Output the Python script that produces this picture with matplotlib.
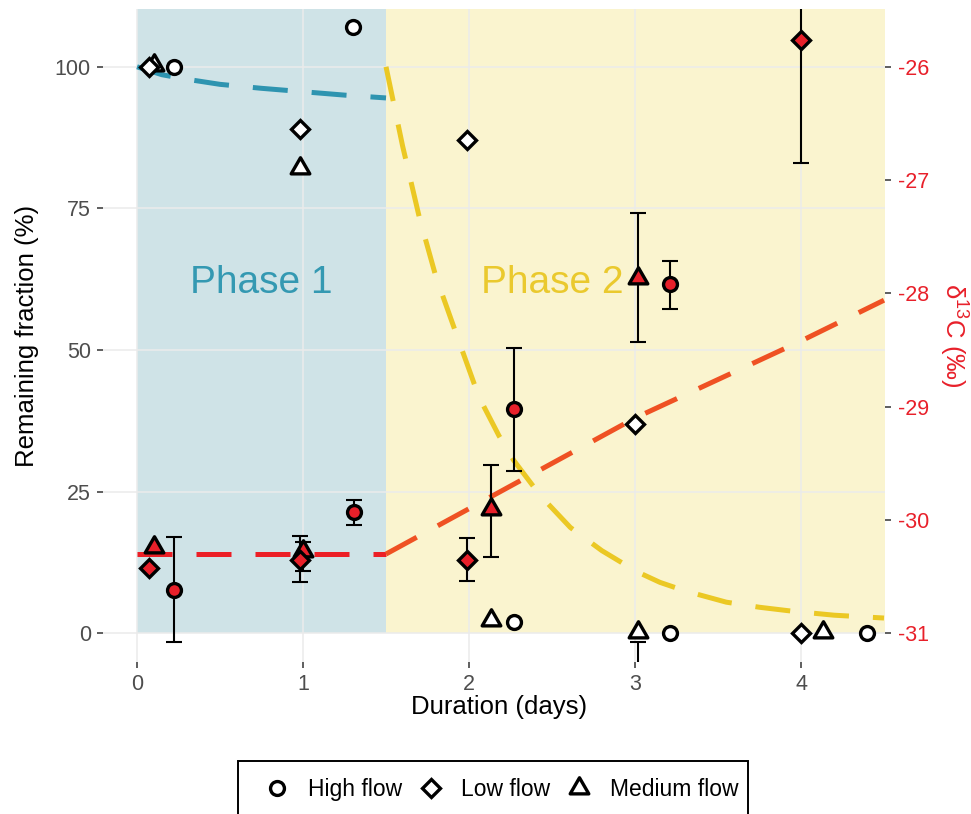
import numpy as np
import matplotlib
matplotlib.use('Agg')
import matplotlib.pyplot as plt
from matplotlib.lines import Line2D
from matplotlib.patches import Rectangle
from matplotlib.path import Path

plt.rcParams['font.family'] = ['Liberation Sans', 'DejaVu Sans']
plt.rcParams['axes.unicode_minus'] = False
plt.rcParams['mathtext.fontset'] = 'custom'
plt.rcParams['mathtext.rm'] = 'Liberation Sans'
plt.rcParams['mathtext.it'] = 'Liberation Sans:italic'

nan = np.nan

# Remaining fraction (%) - open symbols
high_day = [0.22, 1.30, 2.27, 3.21, 4.40]
high_frac = [100, 107, 2.0, 0, 0]
low_day = [0.07, 0.98, 1.99, 3.00, 4.00]
low_frac = [100, 89, 87, 36.9, 0]
med_day = [0.10, 0.98, 2.13, 3.02, 4.13]
med_frac = [100.3, 82.2, 2.3, 0.2, 0.2]
# only visible error bar on the fraction data (medium flow, day 3)
med_frac_err_day = [3.02]
med_frac_err_lo = [-6.0]
med_frac_err_hi = [-1.5]

# delta 13C (permil) - red filled symbols
high_d13c_day = [0.22, 1.31, 2.27, 3.21]
high_d13c = [-30.62, -29.93, -29.02, -27.92]
high_d13c_lo = [-31.08, -30.04, -29.57, -28.14]
high_d13c_hi = [-30.15, -29.82, -28.48, -27.71]
low_d13c_day = [0.07, 0.98, 1.99, 4.00]
low_d13c = [-30.42, -30.35, -30.35, -25.76]
low_d13c_lo = [nan, -30.55, -30.54, -26.85]
low_d13c_hi = [nan, -30.14, -30.16, -24.67]
med_d13c_day = [0.10, 1.00, 2.13, 3.02]
med_d13c = [-30.24, -30.27, -29.90, -27.86]
med_d13c_lo = [nan, -30.45, -30.33, -28.43]
med_d13c_hi = [nan, -30.19, -29.51, -27.29]

# fitted curves
p1_day = [0, 0.15, 0.3, 0.5, 0.75, 1.0, 1.25, 1.5]
p1_frac = [100, 98.6, 97.8, 96.9, 96.2, 95.6, 95.0, 94.5]
p2_day = [1.5, 1.6, 1.7, 1.8, 1.93, 2.06, 2.18, 2.27, 2.43, 2.61, 2.8, 3.01, 3.15, 3.3,
          3.55, 3.75, 3.95, 4.2, 4.5]
p2_frac = [100, 86, 73.5, 63, 52.3, 41.7, 34.9, 30.5, 24.3, 18.7, 14.6, 10.9, 9.0, 7.5,
           5.5, 4.6, 3.9, 3.2, 2.7]
d13c_flat_day = [0, 1.5]
d13c_flat = [-30.3, -30.3]
d13c_fit_day = [1.5, 2.0, 2.5, 3.0, 3.5, 4.0, 4.5]
d13c_fit = [-30.3, -29.9, -29.5, -29.1, -28.76, -28.42, -28.06]

phase_labels = ['Phase 1', 'Phase 2']
legend_labels = ['High flow', 'Low flow', 'Medium flow']


# secondary axis: d13C = -31 + fraction / 20
def to_d13c(v):
    return -31 + np.asarray(v) / 20.0


def to_frac(d):
    return (np.asarray(d) + 31) * 20.0


RED = '#E8202A'
BLUE = '#2E94B0'
YELLOW = '#EBC824'
GREY = '#4D4D4D'

# equilateral triangle, like the ggplot one
tri = Path([(-1, -0.577), (1, -0.577), (0, 1.155), (-1, -0.577)],
           [Path.MOVETO, Path.LINETO, Path.LINETO, Path.CLOSEPOLY])
open_style = dict(ls='none', mfc='white', mec='black', mew=2.4)
red_style = dict(ls='none', mfc=RED, mec='black', mew=2.4)
sizes = {'o': 10, 'D': 9.5, 'tri': 15.5}

fig = plt.figure(figsize=(9.71, 8.14), dpi=100)
ax = fig.add_axes([103 / 971, 1 - 662 / 814, 782 / 971, 653 / 814])
ax.set_xlim(-0.205, 4.506)
ax.set_ylim(-5.06, 110.2)

# phase shading
ax.add_patch(Rectangle((0, 0), 1.5, 300, facecolor='#4393A3', alpha=0.25, lw=0, zorder=0.1))
ax.add_patch(Rectangle((1.5, 0), 10, 300, facecolor='#EFD743', alpha=0.25, lw=0, zorder=0.1))

ax.set_axisbelow(True)
ax.grid(True, color='#EBEBEB', lw=1.1)
for s in ax.spines.values():
    s.set_visible(False)

ax.text(0.75, 60, phase_labels[0], color='#3499B2', fontsize=28, ha='center', va='baseline', zorder=1)
ax.text(2.5, 60, phase_labels[1], color='#EAC92E', fontsize=28, ha='center', va='baseline', zorder=1)

# model curves
dash = (7, 4.8)
ax.plot(p1_day, p1_frac, color=BLUE, lw=3.6, dashes=dash, zorder=2)
ax.plot(p2_day, p2_frac, color=YELLOW, lw=3.6, dashes=dash, zorder=2)
ax.plot(d13c_flat_day, to_frac(d13c_flat), color='#EC1F26', lw=3.6, dashes=dash, zorder=2)
ax.plot(d13c_fit_day, to_frac(d13c_fit), color='#EF5123', lw=3.6, dashes=dash, zorder=2)


def err(day, lo, hi):
    lo = np.asarray(lo, float)
    hi = np.asarray(hi, float)
    ok = ~np.isnan(lo)
    mid = (lo + hi) / 2
    half = (hi - lo) / 2
    ax.errorbar(np.asarray(day)[ok], mid[ok], yerr=half[ok], fmt='none', ecolor='black',
                elinewidth=1.5, capsize=6, capthick=1.5, zorder=3)


err(med_frac_err_day, med_frac_err_lo, med_frac_err_hi)
err(high_d13c_day, to_frac(high_d13c_lo), to_frac(high_d13c_hi))
err(low_d13c_day, to_frac(low_d13c_lo), to_frac(low_d13c_hi))
err(med_d13c_day, to_frac(med_d13c_lo), to_frac(med_d13c_hi))

# points
ax.plot(med_day, med_frac, marker=tri, ms=sizes['tri'], zorder=4, **open_style)
ax.plot(high_day, high_frac, marker='o', ms=sizes['o'], zorder=4, **open_style)
ax.plot(low_day, low_frac, marker='D', ms=sizes['D'], zorder=4, **open_style)
ax.plot(med_d13c_day, to_frac(med_d13c), marker=tri, ms=sizes['tri'], zorder=4, **red_style)
ax.plot(high_d13c_day, to_frac(high_d13c), marker='o', ms=sizes['o'], zorder=4, **red_style)
ax.plot(low_d13c_day, to_frac(low_d13c), marker='D', ms=sizes['D'], zorder=4, **red_style)

# axes
ax.set_xticks([0, 1, 2, 3, 4])
ax.set_yticks([0, 25, 50, 75, 100])
ax.tick_params(colors='#333333', labelcolor=GREY, labelsize=15.5, length=4.3, width=1.1, pad=4.5)
ax.set_xlabel('Duration (days)', fontsize=18.5, va='center')
ax.xaxis.set_label_coords(0.507, -0.069)
ax.set_ylabel('Remaining fraction (%)', fontsize=18.5, va='center')
ax.yaxis.set_label_coords(-0.097, 0.5)

secax = ax.secondary_yaxis('right', functions=(to_d13c, to_frac))
secax.set_yticks([-31, -30, -29, -28, -27, -26])
secax.tick_params(colors='#333333', labelcolor=RED, labelsize=15.5, length=4.3, width=1.1, pad=5)
for s in secax.spines.values():
    s.set_visible(False)
secax.set_ylabel('δ$^{13}$C (‰)', color=RED, fontsize=18.5, rotation=-90, va='center')
secax.yaxis.set_label_coords(1.087, 0.5, transform=ax.transAxes)

# legend
handles = [
    Line2D([], [], marker='o', ms=sizes['o'], **open_style),
    Line2D([], [], marker='D', ms=sizes['D'], **open_style),
    Line2D([], [], marker=tri, ms=sizes['tri'], **open_style),
]
fig.legend(handles, legend_labels, loc='center', bbox_to_anchor=(0.517, 0.0295), ncol=3,
           frameon=False, fontsize=16.5, handlelength=1.0, handletextpad=0.85, columnspacing=0.76)
fig.patches.append(Rectangle((238 / 971, 1 - 830 / 814), 510 / 971, 69 / 814,
                             transform=fig.transFigure, fill=False, ec='black', lw=1.4))

fig.savefig('out.png', dpi=100)
